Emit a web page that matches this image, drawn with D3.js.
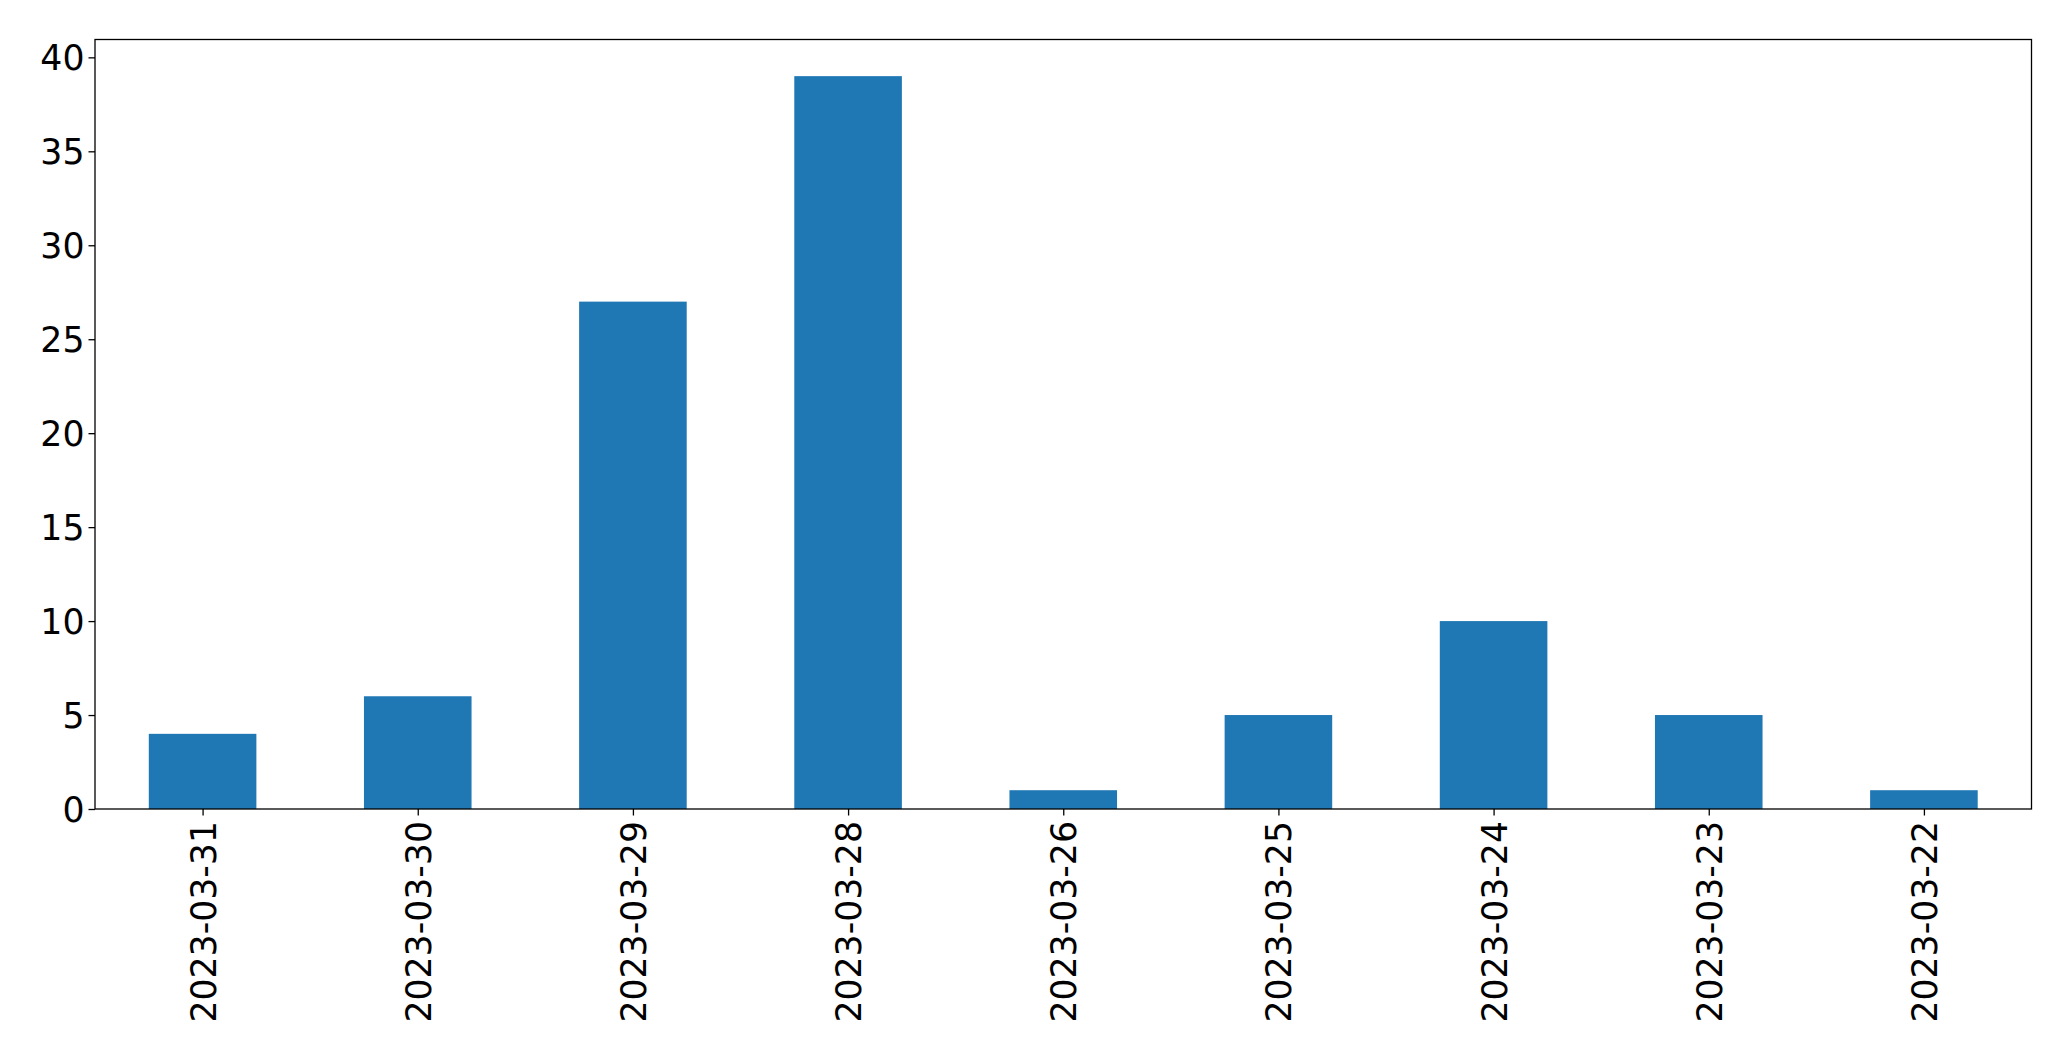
<!DOCTYPE html>
<html>
<head>
<meta charset="utf-8">
<script src="https://cdn.jsdelivr.net/npm/d3@7"></script>
<style>
  html, body { margin: 0; padding: 0; background: #fff; }
  svg { display: block; }
  text { font-family: "DejaVu Sans", sans-serif; fill: #000; }
</style>
</head>
<body>
<svg id="chart" width="2071" height="1061"></svg>
<script>
const categories = ["2023-03-31","2023-03-30","2023-03-29","2023-03-28","2023-03-26","2023-03-25","2023-03-24","2023-03-23","2023-03-22"];
const values = [4, 6, 27, 39, 1, 5, 10, 5, 1];
const yTicks = [0, 5, 10, 15, 20, 25, 30, 35, 40];

(function () {
const plotLeft = 95, plotRight = 2031.5, plotTop = 39.5, plotBottom = 809;
const fontSize = 34.7;
const tickLen = 6.5;

const svg = d3.select("#chart");

const x = d3.scaleLinear().domain([-0.5, categories.length - 0.5]).range([plotLeft, plotRight]);
const yMax = d3.max(values) * 1.05;
const y = d3.scaleLinear().domain([0, yMax]).range([plotBottom, plotTop]);
const barW = 0.5;

// bars
svg.append("g").selectAll("rect").data(values).join("rect")
  .attr("x", (d, i) => x(i - barW / 2))
  .attr("width", (d, i) => x(i + barW / 2) - x(i - barW / 2))
  .attr("y", d => y(d))
  .attr("height", d => y(0) - y(d))
  .attr("fill", "#1f77b4");

// y axis
const yAxis = d3.axisLeft(y).tickValues(yTicks).tickSize(tickLen).tickPadding(4).tickFormat(d3.format("d"));
const gy = svg.append("g").attr("transform", `translate(${plotLeft},0)`).call(yAxis);
gy.select(".domain").remove();
gy.selectAll(".tick line").attr("stroke", "#000").attr("stroke-width", 1.3);
gy.selectAll(".tick text").attr("font-size", fontSize).attr("font-family", "DejaVu Sans").attr("fill", "#000").attr("dy", "0.36em");

// x axis
const xAxis = d3.axisBottom(x).tickValues(d3.range(categories.length)).tickSize(tickLen).tickFormat(i => categories[i]);
const gx = svg.append("g").attr("transform", `translate(0,${plotBottom})`).call(xAxis);
gx.select(".domain").remove();
gx.selectAll(".tick line").attr("stroke", "#000").attr("stroke-width", 1.3);
gx.selectAll(".tick text")
  .attr("font-size", fontSize).attr("font-family", "DejaVu Sans").attr("fill", "#000")
  .attr("text-anchor", "end")
  .attr("x", 0).attr("y", 0)
  .attr("dy", "0.36em")
  .attr("transform", "translate(0,12) rotate(-90)");

// frame
svg.append("rect")
  .attr("x", plotLeft).attr("y", plotTop)
  .attr("width", plotRight - plotLeft).attr("height", plotBottom - plotTop)
  .attr("fill", "none").attr("stroke", "#000").attr("stroke-width", 1.3);
})();
</script>
</body>
</html>
